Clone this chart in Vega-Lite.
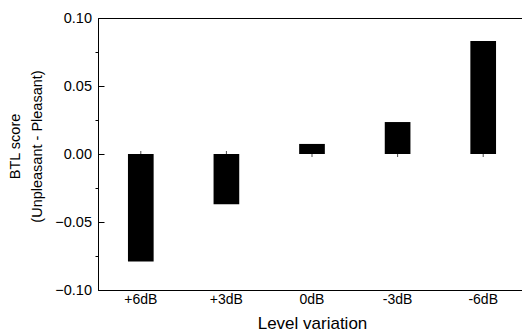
{
  "$schema": "https://vega.github.io/schema/vega-lite/v6.json",
  "width": 428,
  "height": 272,
  "autosize": "none",
  "padding": {"left": 98, "top": 18, "right": 0, "bottom": 46},
  "background": "white",
  "config": {
    "view": {"stroke": "black", "strokeWidth": 1},
    "font": "Liberation Sans"
  },
  "data": {
    "values": [
      {"level": "+6dB", "score": -0.079},
      {"level": "+3dB", "score": -0.037},
      {"level": "0dB", "score": 0.0074},
      {"level": "-3dB", "score": 0.0235},
      {"level": "-6dB", "score": 0.083}
    ]
  },
  "encoding": {
    "x": {
      "field": "level",
      "type": "nominal",
      "sort": null,
      "scale": {"paddingInner": 0.7, "paddingOuter": 0.35},
      "axis": {
        "title": "Level variation",
        "labelAngle": 0,
        "labelFontSize": 14,
        "labelColor": "black",
        "titleFontSize": 17,
        "titleFontWeight": "normal",
        "titleColor": "black",
        "ticks": false,
        "labelPadding": 2,
        "titlePadding": 9,
        "domainColor": "black"
      }
    }
  },
  "layer": [
    {
      "mark": {"type": "rule", "color": "black", "strokeWidth": 1},
      "encoding": {
        "y": {
          "datum": 0,
          "type": "quantitative",
          "scale": {"domain": [-0.1, 0.1], "nice": false, "zero": false},
          "axis": {
            "orient": "left",
            "values": [-0.075, -0.025, 0.025, 0.075],
            "labels": false,
            "domain": false,
            "grid": false,
            "ticks": true,
            "tickSize": 3,
            "tickWidth": 1,
            "tickColor": "black",
            "title": null,
            "zindex": 2
          }
        }
      }
    },
    {
      "mark": {"type": "tick", "orient": "vertical", "color": "black", "size": 6, "thickness": 1},
      "encoding": {
        "y": {"datum": 0, "type": "quantitative", "axis": null}
      }
    },
    {
      "mark": {"type": "bar", "color": "black"},
      "encoding": {
        "y": {
          "field": "score",
          "type": "quantitative",
          "axis": {
            "orient": "left",
            "title": ["BTL score", "(Unpleasant - Pleasant)"],
            "values": [-0.1, -0.05, 0, 0.05, 0.1],
            "format": ".2f",
            "ticks": true,
            "tickSize": -6,
            "tickWidth": 1,
            "tickColor": "black",
            "domainColor": "black",
            "grid": false,
            "labelFontSize": 14.5,
            "labelColor": "black",
            "labelPadding": 12.5,
            "titleFontSize": 14.5,
            "titleFontWeight": "normal",
            "titleColor": "black",
            "titlePadding": 10,
            "titleLineHeight": 22,
            "titleY": 128,
            "zindex": 2
          }
        }
      }
    }
  ],
  "resolve": {"axis": {"y": "independent"}}
}
